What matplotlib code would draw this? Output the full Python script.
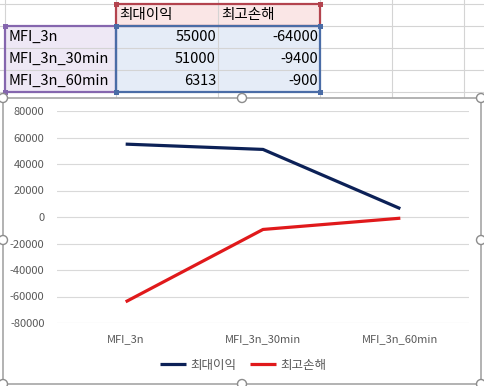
import matplotlib

matplotlib.use("Agg")

import matplotlib.pyplot as plt
from matplotlib.patches import Rectangle, Circle
import numpy as np

plt.rcParams["font.family"] = ["Noto Sans CJK KR", "DejaVu Sans"]

# data
categories = ["MFI_3n", "MFI_3n_30min", "MFI_3n_60min"]
series_names = ["최대이익", "최고손해"]
max_profit = [55000, 51000, 6313]
max_loss = [-64000, -9400, -900]
y_ticks = [-80000, -60000, -40000, -20000, 0, 20000, 40000, 60000, 80000]

W, H = 484, 386
NAVY = "#0C2157"
RED = "#E0191B"
TEXT_GRAY = "#595959"
GRID = "#D9D9D9"

fig = plt.figure(figsize=(W / 100, H / 100), dpi=100)

# background "sheet" layer in pixel coordinates
bg = fig.add_axes([0, 0, 1, 1], zorder=0)
bg.set_xlim(0, W)
bg.set_ylim(H, 0)
bg.axis("off")

rows_y = [4, 26, 48, 70, 92]
cols_x = [5, 116, 218, 320, 392, 464]

# selection fills
bg.add_patch(Rectangle((116, 4), 204, 22, facecolor="#FAE6E6", edgecolor="none"))
bg.add_patch(Rectangle((5, 26), 111, 66, facecolor="#EEE8F5", edgecolor="none"))
bg.add_patch(Rectangle((116, 26), 204, 66, facecolor="#E5ECF7", edgecolor="none"))

for y in rows_y:
    bg.plot([0, W], [y, y], color="#D4D4D4", lw=0.8, zorder=1)
for x in cols_x:
    bg.plot([x, x], [0, 98], color="#D4D4D4", lw=0.8, zorder=1)


def sel_box(x0, y0, x1, y1, color):
    bg.add_patch(Rectangle((x0, y0), x1 - x0, y1 - y0, facecolor="none",
                           edgecolor=color, lw=1.6, zorder=3))
    for cx, cy in [(x0, y0), (x1, y0), (x0, y1), (x1, y1)]:
        bg.add_patch(Rectangle((cx - 2.5, cy - 2.5), 5, 5, facecolor=color,
                               edgecolor="none", zorder=4))


sel_box(116, 4, 320, 26, "#B3434E")
sel_box(5, 26, 116, 92, "#8566AE")
sel_box(116, 26, 320, 92, "#4A6CA6")

cell_fs = 10.5
bg.text(119, 15, series_names[0], fontsize=cell_fs, va="center", ha="left", zorder=5)
bg.text(221, 15, series_names[1], fontsize=cell_fs, va="center", ha="left", zorder=5)
for i, cat in enumerate(categories):
    yc = 37 + 22 * i
    bg.text(8, yc, cat, fontsize=cell_fs, va="center", ha="left", zorder=5)
    bg.text(216, yc, str(max_profit[i]), fontsize=cell_fs, va="center", ha="right", zorder=5)
    bg.text(318, yc, str(max_loss[i]), fontsize=cell_fs, va="center", ha="right", zorder=5)

# chart frame
bg.add_patch(Rectangle((3, 98), 478, 286, facecolor="white", edgecolor="#A6A6A6",
                       lw=1.2, zorder=6))
for hx, hy in [(3, 98), (242, 98), (481, 98), (3, 240), (481, 240),
               (3, 384), (242, 384), (481, 384)]:
    bg.add_patch(Circle((hx, hy), 4.5, facecolor="white", edgecolor="#8C8C8C",
                        lw=1.0, zorder=7, clip_on=False))

# chart
ax = fig.add_axes([57 / W, (H - 323) / H, 412 / W, 212 / H], zorder=2)
ax.set_facecolor("none")
x = np.arange(len(categories)) + 0.5
ax.plot(x, max_profit, color=NAVY, lw=2.3, label=series_names[0], solid_capstyle="butt")
ax.plot(x, max_loss, color=RED, lw=2.3, label=series_names[1], solid_capstyle="butt")

ax.set_xlim(0, len(categories))
ax.set_ylim(y_ticks[0], y_ticks[-1])
ax.set_xticks(x)
ax.set_xticklabels(categories)
ax.set_yticks(y_ticks)
ax.set_yticklabels([str(v) for v in y_ticks])
ax.tick_params(axis="both", length=0, labelsize=8, labelcolor=TEXT_GRAY)
ax.tick_params(axis="y", pad=9)
ax.tick_params(axis="x", pad=8)
ax.yaxis.grid(True, color=GRID, lw=0.8)
ax.set_axisbelow(True)
for s in ax.spines.values():
    s.set_visible(False)

fig.legend(loc="center", bbox_to_anchor=(243 / W, 1 - 365 / H), ncol=2,
           frameon=False, fontsize=9, handlelength=2.1, handletextpad=0.3,
           columnspacing=1.1, labelcolor=TEXT_GRAY)

fig.savefig("out.png", dpi=100)
